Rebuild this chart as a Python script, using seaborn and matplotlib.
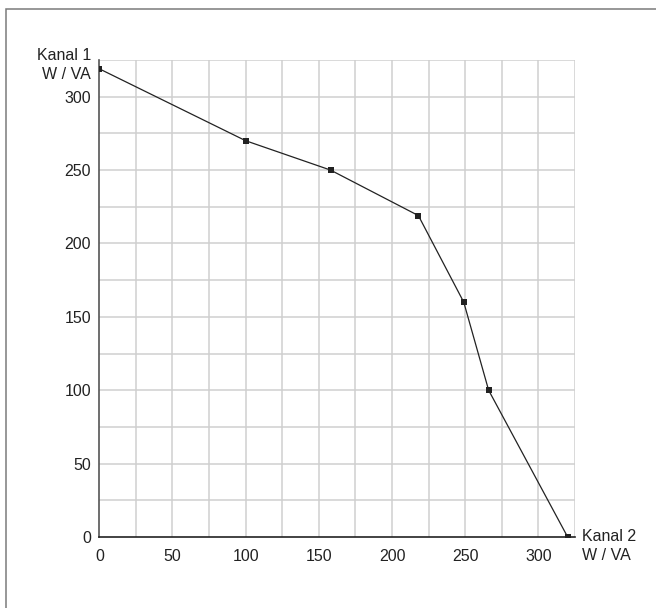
import numpy as np
import matplotlib
matplotlib.use("Agg")
import matplotlib.pyplot as plt
import seaborn as sns
import pandas as pd
from matplotlib.patches import Rectangle

# Kanal 2 (x) vs Kanal 1 (y), W / VA
kanal2 = [0, 100, 158, 218, 249, 266, 320]
kanal1 = [319, 270, 250, 219, 160, 100, 0]
tick_values = [0, 50, 100, 150, 200, 250, 300]
grid_values = list(range(0, 326, 25))

df = pd.DataFrame({"Kanal 2": kanal2, "Kanal 1": kanal1})

sns.set_theme(style="white")
plt.rcParams["font.family"] = ["Liberation Sans", "DejaVu Sans"]

fig = plt.figure(figsize=(6.56, 6.08), dpi=100)
ax = fig.add_axes([0.1514, 0.1168, 0.7251, 0.7845])

# outer frame (right/bottom edges run off the picture)
fig.patches.append(Rectangle((6 / 656, -0.1), 1.2, 1 - 9 / 608 + 0.1,
                             transform=fig.transFigure, fill=False,
                             edgecolor="#7a7a7a", linewidth=1.1, zorder=0))

for v in grid_values[1:]:
    ax.axvline(v, color="#cfcfcf", lw=1.1, zorder=1)
    ax.axhline(v, color="#cfcfcf", lw=1.1, zorder=1)

sns.lineplot(data=df, x="Kanal 2", y="Kanal 1", sort=False, color="#222222",
             lw=0.9, marker="s", markersize=4, markeredgewidth=0,
             ax=ax, zorder=3)

ax.set_xlim(0, 325)
ax.set_ylim(0, 325)
ax.set_xticks(tick_values)
ax.set_yticks(tick_values)
ax.set_xticklabels([str(t) for t in tick_values])
ax.set_yticklabels([str(t) for t in tick_values])
ax.tick_params(length=0, labelsize=11.5, labelcolor="#222222")
ax.tick_params(axis="x", pad=8.5)
ax.tick_params(axis="y", pad=6)
ax.set_xlabel("")
ax.set_ylabel("")

for s in ["top", "right"]:
    ax.spines[s].set_visible(False)
ax.spines["left"].set_color("#555555")
ax.spines["bottom"].set_color("#222222")
ax.spines["left"].set_linewidth(1.2)
ax.spines["bottom"].set_linewidth(1.2)

ax.annotate("Kanal 1\nW / VA", xy=(0, 1), xycoords="axes fraction",
            xytext=(-6, 9), textcoords="offset points", ha="right", va="top",
            fontsize=11.5, color="#222222", linespacing=1.4)
ax.annotate("Kanal 2\nW / VA", xy=(1, 0), xycoords="axes fraction",
            xytext=(5, 6), textcoords="offset points", ha="left", va="top",
            fontsize=11.5, color="#222222", linespacing=1.4)

fig.savefig("out.png", dpi=100)
